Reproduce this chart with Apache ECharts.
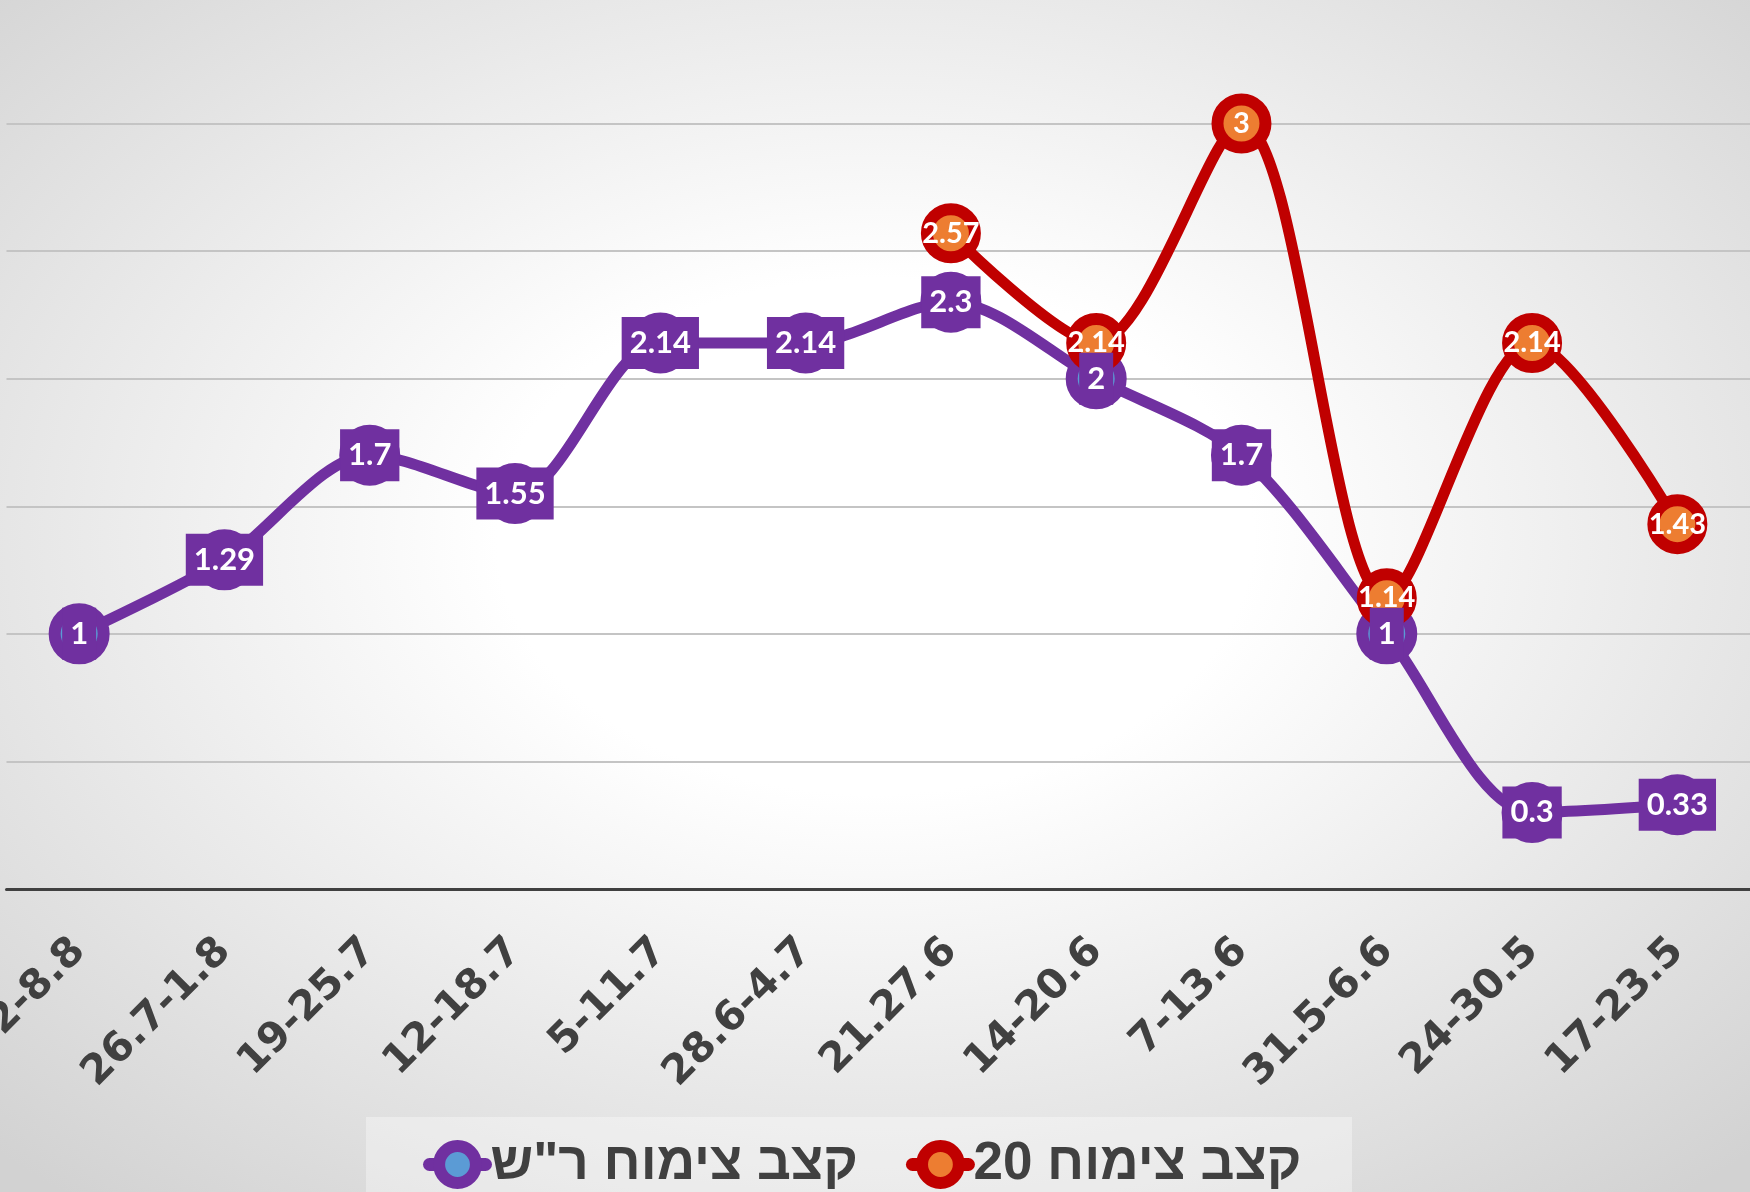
<!DOCTYPE html>
<html lang="he" dir="rtl">
<head>
<meta charset="utf-8">
<script src="https://cdn.jsdelivr.net/npm/echarts@6/dist/echarts.min.js"></script>
<style>
html,body{margin:0;padding:0;overflow:hidden;background:#ffffff}
#chart{width:1750px;height:1192px}
</style>
</head>
<body>
<div id="chart"></div>
<script>
// ---- data ----
const categories = ['2-8.8', '26.7-1.8', '19-25.7', '12-18.7', '5-11.7', '28.6-4.7', '21.27.6', '14-20.6', '7-13.6', '31.5-6.6', '24-30.5', '17-23.5'];
const nameRS = 'קצב צימוח ר"ש';
const name20 = 'קצב צימוח 20';
const valuesRS = [1, 1.29, 1.7, 1.55, 2.14, 2.14, 2.3, 2, 1.7, 1, 0.3, 0.33];
const values20 = [null, null, null, null, null, null, 2.57, 2.14, 3, 1.14, 2.14, 1.43];
const yMin = 0, yMax = 3.5, yInterval = 0.5;

// ---- style ----
const W = 1750, H = 1192;
const PURPLE = '#7030a0', BLUE = '#5b9bd5', RED = '#c00000', ORANGE = '#ed7d31', TEXT = '#404040';
const labelFont = 'Lato, "Open Sans", sans-serif';

const chart = echarts.init(document.getElementById('chart'), null, {renderer: 'canvas', width: W, height: H});

const option = {
  animation: false,
  backgroundColor: 'transparent',
  graphic: [
    {
      type: 'rect', z: -10, silent: true, x: 0, y: 0, scaleX: W / H,
      shape: {x: 0, y: 0, width: H, height: H},
      style: {
        fill: {
          type: 'radial', x: 0.5, y: 0.45, r: 0.72,
          colorStops: [
            {offset: 0, color: '#ffffff'},
            {offset: 0.3, color: '#ffffff'},
            {offset: 1, color: '#d2d2d2'}
          ]
        }
      }
    },
    {
      type: 'rect', z: -9, silent: true,
      shape: {x: 366, y: 1117, width: 986, height: 80},
      style: {fill: 'rgba(255,255,255,0.35)'}
    }
  ],
  grid: {left: 6.5, right: 0, top: -4, bottom: 303, containLabel: false, outerBoundsMode: 'none'},
  legend: {
    left: 366, top: 1117,
    padding: [21, 0, 0, 57],
    itemWidth: 56, itemHeight: 46, itemGap: 48,
    selectedMode: false,
    textStyle: {fontFamily: '"Liberation Sans", "DejaVu Sans", sans-serif', fontWeight: 'bold', fontSize: 53, color: TEXT, lineHeight: 46},
    data: [
      {name: nameRS,
        itemStyle: {color: BLUE, borderColor: PURPLE, borderWidth: 12},
        lineStyle: {color: PURPLE, width: 13, cap: 'round'}},
      {name: name20,
        itemStyle: {color: ORANGE, borderColor: RED, borderWidth: 12},
        lineStyle: {color: RED, width: 13, cap: 'round'}}
    ]
  },
  xAxis: {
    type: 'category', data: categories, boundaryGap: true,
    axisLine: {show: true, lineStyle: {color: TEXT, width: 3}},
    axisTick: {show: false},
    splitLine: {show: false},
    axisLabel: {interval: 0, rotate: 45, margin: 56, fontFamily: '"DejaVu Sans", sans-serif', fontWeight: 'bold', fontSize: 41, color: TEXT}
  },
  yAxis: {
    type: 'value', min: yMin, max: yMax, interval: yInterval,
    axisLabel: {show: false}, axisLine: {show: false}, axisTick: {show: false},
    splitLine: {lineStyle: {color: '#c4c4c4', width: 2}}
  },
  series: [
    {
      name: nameRS, type: 'line', data: valuesRS, smooth: 0.3, z: 2,
      symbol: 'circle', symbolSize: 49,
      lineStyle: {color: PURPLE, width: 11},
      itemStyle: {color: BLUE, borderColor: PURPLE, borderWidth: 12},
      label: {show: false}
    },
    {
      name: name20, type: 'line', data: values20, smooth: 0.3, z: 3,
      symbol: 'circle', symbolSize: 48,
      lineStyle: {color: RED, width: 11},
      itemStyle: {color: ORANGE, borderColor: RED, borderWidth: 12},
      label: {show: true, position: 'inside', color: '#ffffff', fontFamily: labelFont, fontWeight: 'bold', fontSize: 29}
    },
    {
      name: nameRS, type: 'scatter', data: valuesRS, z: 4,
      symbol: 'circle', symbolSize: 1,
      itemStyle: {color: 'rgba(0,0,0,0)', opacity: 1},
      emphasis: {disabled: true},
      label: {show: true, position: 'inside', color: '#ffffff', fontFamily: labelFont, fontWeight: 'bold', fontSize: 31, lineHeight: 32, backgroundColor: PURPLE, padding: [10, 8, 10, 8]}
    }
  ]
};
chart.setOption(option);
</script>
</body>
</html>
